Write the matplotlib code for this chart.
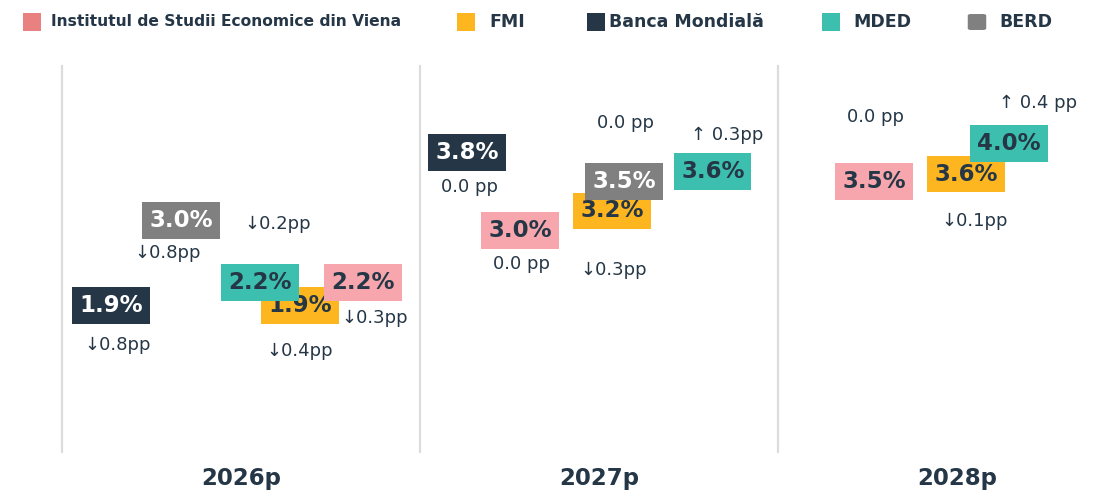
import matplotlib.pyplot as plt
from matplotlib.patches import Rectangle, FancyBboxPatch

plt.rcParams['font.family'] = ['DejaVu Sans']

# date
years = ["2026p", "2027p", "2028p"]
series = ["Institutul de Studii Economice din Viena", "FMI", "Banca Mondială", "MDED", "BERD"]

ise = [2.2, 3.0, 3.5]
fmi = [1.9, 3.2, 3.6]
bm = [1.9, 3.8, None]
mded = [2.2, 3.6, 4.0]
berd = [3.0, 3.5, None]

ise_chg = ["↓0.3pp", "0.0 pp", "0.0 pp"]
fmi_chg = ["↓0.4pp", "↓0.3pp", "↓0.1pp"]
bm_chg = ["↓0.8pp", "0.0 pp", None]
mded_chg = ["↓0.2pp", "↑ 0.3pp", "↑ 0.4 pp"]
berd_chg = ["↓0.8pp", "0.0 pp", None]

# stil
NAVY = "#253746"
box_colors = ["#F8A6AD", "#FDB61F", "#253746", "#3CBFAE", "#808080"]
legend_colors = ["#E8817F", "#FDB61F", "#253746", "#3CBFAE", "#808080"]
text_colors = [NAVY, NAVY, "white", NAVY, "white"]
zorders = [5, 3, 4, 5, 4]

# scara verticala a fiecarui panou
panel_ylims = [(0, 5), (0.74, 4.68), (0, 5)]

# pozitii in fiecare panou (fractie din latime) si deplasarea etichetei (px)
x_slots = [
    [0.841, 0.279, 0.268],
    [0.665, 0.536, 0.525],
    [0.137, 0.131, None],
    [0.553, 0.818, 0.645],
    [0.332, 0.570, None],
]
label_offsets = [
    [(12, 36), (2, 33), (2, -65)],
    [(0, 46), (2, 59), (9, 47)],
    [(7, 40), (3, 35), None],
    [(18, -58), (14, -37), (29, -40)],
    [(-13, 33), (1, -59), None],
]

values = [ise, fmi, bm, mded, berd]
changes = [ise_chg, fmi_chg, bm_chg, mded_chg, berd_chg]

W, H = 1120, 493
fig = plt.figure(figsize=(W / 100, H / 100), dpi=100)

for i, year in enumerate(years):
    ax = fig.add_axes([(62 + 358 * i) / W, (H - 452) / H, 358 / W, 386 / H])
    ax.set_xlim(0, 1)
    ax.set_ylim(*panel_ylims[i])
    ax.set_xticks([])
    ax.set_yticks([])
    for side in ["top", "right", "bottom"]:
        ax.spines[side].set_visible(False)
    ax.spines["left"].set_color("#DCDCDC")
    ax.spines["left"].set_linewidth(1.6)
    ax.patch.set_visible(False)

    for s in range(len(series)):
        v = values[s][i]
        if v is None:
            continue
        x = x_slots[s][i]
        ax.text(x, v, f"{v:.1f}%", ha="center", va="center",
                fontsize=16.5, fontweight="bold", color=text_colors[s],
                zorder=zorders[s],
                bbox=dict(boxstyle="square,pad=0.3", fc=box_colors[s], ec="none"))
        dx, dy = label_offsets[s][i]
        ax.annotate(changes[s][i], xy=(x, v), xytext=(dx, -dy),
                    textcoords="offset pixels", ha="center", va="center",
                    fontsize=13, color=NAVY, zorder=7)

    fig.text((62 + 358 * i + 179) / W, 1 - 478 / H, year, ha="center", va="center",
             fontsize=16.5, fontweight="bold", color=NAVY)

# legenda
marker_x = [23, 457, 587, 822, 968]
text_x = [51, 489, 609, 853, 999]
for s, name in enumerate(series):
    if name == "BERD":
        patch = FancyBboxPatch(((marker_x[s] + 2) / W, 1 - 29 / H), 14 / W, 14 / H,
                               boxstyle="round,pad=0.002,rounding_size=0.003",
                               transform=fig.transFigure, fc=legend_colors[s], ec="none")
    else:
        patch = Rectangle((marker_x[s] / W, 1 - 31 / H), 18 / W, 18 / H,
                          transform=fig.transFigure, fc=legend_colors[s], ec="none")
    fig.add_artist(patch)
    fig.text(text_x[s] / W, 1 - 22 / H, name, ha="left", va="center",
             fontsize=11.2 if s == 0 else 12.5, fontweight="bold", color=NAVY)

fig.savefig("out.png", dpi=100, facecolor="white")
